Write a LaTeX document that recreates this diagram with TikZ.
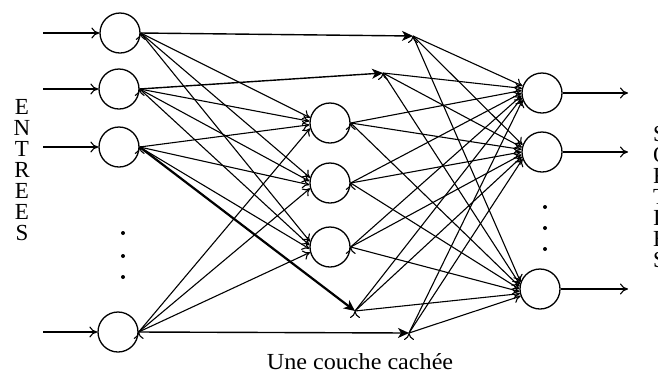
\documentclass[tikz,border=0pt]{standalone}
\usepackage{fontspec}
\setmainfont{Liberation Serif}
\usetikzlibrary{arrows.meta}

\tikzset{
  neuron/.style={draw, circle, line width=1.3pt, minimum size=40pt, inner sep=0pt},
  syn/.style={line width=1.1pt, -{To[length=7pt,width=10pt]}},
  link/.style={line width=1.4pt, -{Stealth[length=11pt,width=10pt,inset=3pt]}},
  io/.style={line width=1.1pt, -{To[length=8pt,width=11pt]}},
  dot/.style={circle, fill, inner sep=0pt, minimum size=4pt},
  label/.style={font=\fontsize{23}{21}\selectfont, inner sep=0pt},
}

\begin{document}
\begin{tikzpicture}[x=1pt,y=-1pt]
\useasboundingbox (0,0) rectangle (658,376);
% entrees
\node[neuron] (i1) at (120,33) {};
\node[neuron] (i2) at (119,89) {};
\node[neuron] (i3) at (119,147) {};
\node[neuron] (i4) at (118,332) {};
\node[dot] (di1) at (123,233) {};
\node[dot] (di2) at (123,256) {};
\node[dot] (di3) at (123,277) {};
\coordinate (e1) at (43,33);
\coordinate (e2) at (43,89);
\coordinate (e3) at (43,147);
\coordinate (e4) at (43,332);
% couche cachee
\node[neuron] (h1) at (330,123) {};
\node[neuron] (h2) at (330,183) {};
\node[neuron] (h3) at (330,247) {};
\coordinate (j1) at (413,36);
\coordinate (j2) at (383,73);
\coordinate (j3) at (355,311);
\coordinate (j4) at (409,333);
% sorties
\node[neuron] (o1) at (542,93) {};
\node[neuron] (o2) at (542,152) {};
\node[neuron] (o3) at (540,289) {};
\node[dot] (do1) at (545,207) {};
\node[dot] (do2) at (545,228) {};
\node[dot] (do3) at (545,249) {};
\coordinate (s1) at (628,93);
\coordinate (s2) at (628,152);
\coordinate (s3) at (628,289);

\draw[io] (e1) -- (i1);
\draw[io] (e2) -- (i2);
\draw[io] (e3) -- (i3);
\draw[io] (e4) -- (i4);

\draw[link] (i1.east) -- (j1);
\draw[link] (i2.east) -- (j2);
\draw[link, line width=2.2pt] (i3.east) -- (j3);
\draw[link] (i4.east) -- (j4);
\draw[syn] (i1.east) edge (h1.165) edge (h2.165) edge (h3.165);
\draw[syn] (i2.east) edge (h1.175) edge (h2.175) edge (h3.175);
\draw[syn] (i3.east) edge (h1.185) edge (h2.185) edge (h3.185);
\draw[syn] (i4.east) edge (h1.195) edge (h2.195) edge (h3.195);

\draw[syn] (j1) edge (o1.160) edge (o2.160) edge (o3.160);
\draw[syn] (j2) edge (o1.167) edge (o2.167) edge (o3.167);
\draw[syn] (h1.east) edge (o1.173) edge (o2.173) edge (o3.173);
\draw[syn] (h2.east) edge (o1.180) edge (o2.180) edge (o3.180);
\draw[syn] (h3.east) edge (o1.187) edge (o2.187) edge (o3.187);
\draw[syn] (j3) edge (o1.193) edge (o2.193) edge (o3.193);
\draw[syn] (j4) edge (o1.200) edge (o2.200) edge (o3.200);

\draw[io] (o1) -- (s1);
\draw[io] (o2) -- (s2);
\draw[io] (o3) -- (s3);

\node[label, align=center] (entrees) at (22,170) {E\\N\\T\\R\\E\\E\\S};
\node[label, align=left, anchor=west] (sorties) at (653,197) {S\\O\\R\\T\\I\\E\\S};
\node[label, anchor=base] (titre) at (360,369) {\scalebox{1.05}[1]{Une couche cachée}};
\end{tikzpicture}
\end{document}
